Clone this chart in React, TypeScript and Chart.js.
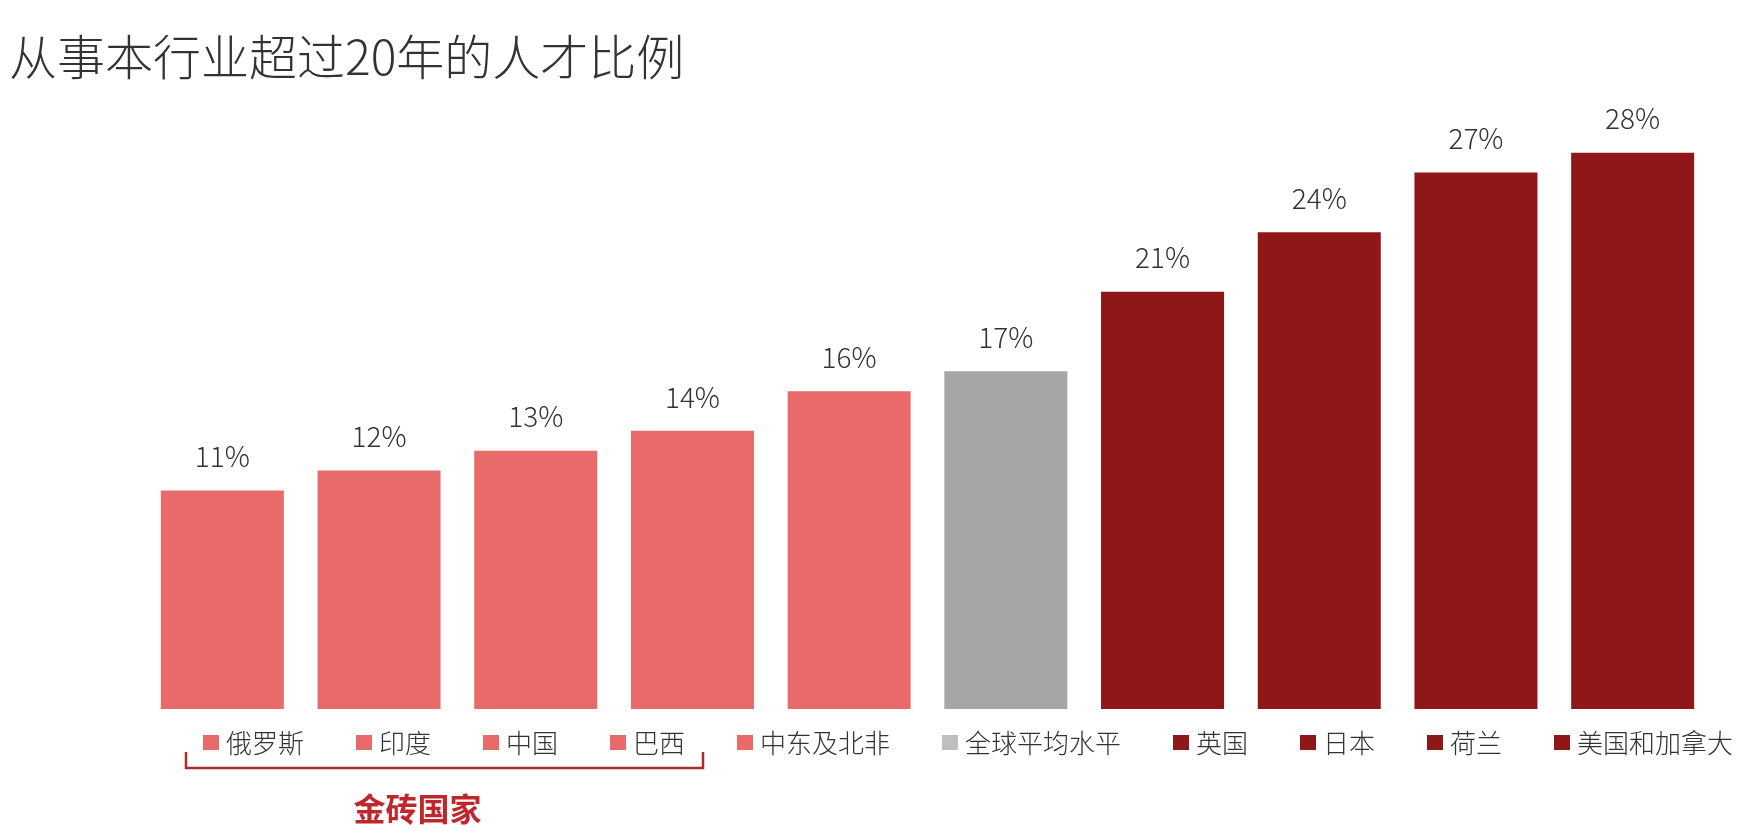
import { useEffect, useRef } from 'react';
import Chart from 'chart.js/auto';

const title = '从事本行业超过20年的人才比例';
const categories = ['俄罗斯', '印度', '中国', '巴西', '中东及北非', '全球平均水平', '英国', '日本', '荷兰', '美国和加拿大'];
const shares = [11, 12, 13, 14, 16, 17, 21, 24, 27, 28];
const groupLabel = '金砖国家';
const groupSize = 4;

const PINK = '#e86b6a';
const GREY = '#a6a6a6';
const DARK = '#8f1718';
const barColors = [PINK, PINK, PINK, PINK, PINK, GREY, DARK, DARK, DARK, DARK];
const legendColors = [PINK, PINK, PINK, PINK, PINK, '#bfbfbf', DARK, DARK, DARK, DARK];

const FONT = '"Noto Sans CJK SC", "Noto Sans", sans-serif';

// value labels, title, category legend and the bracket under the BRIC group
const overlay = {
  id: 'overlay',
  afterDatasetsDraw(chart: any) {
    const { ctx, chartArea } = chart;
    const meta = chart.getDatasetMeta(0);
    ctx.save();

    ctx.font = `300 28px ${FONT}`;
    ctx.fillStyle = '#333333';
    ctx.textAlign = 'center';
    ctx.textBaseline = 'middle';
    meta.data.forEach((bar: any, i: number) => {
      ctx.fillText(`${shares[i]}%`, bar.x, bar.y - 34);
    });

    ctx.font = `300 48px ${FONT}`;
    ctx.fillStyle = '#333333';
    ctx.textAlign = 'left';
    ctx.fillText(title, 9, 57);

    ctx.font = `300 26px ${FONT}`;
    const y = chartArea.bottom + 34;
    let x = chartArea.left + 59;
    const spans: number[][] = [];
    categories.forEach((c, i) => {
      const w = ctx.measureText(c).width;
      ctx.fillStyle = legendColors[i];
      ctx.fillRect(x, y - 8, 16, 15);
      ctx.fillStyle = '#333333';
      ctx.fillText(c, x + 23, y);
      spans.push([x, x + 23 + w]);
      x += 23 + w + 52;
    });

    const bl = spans[0][0] - 17;
    const br = spans[groupSize - 1][1] + 18;
    ctx.strokeStyle = '#b3282d';
    ctx.lineWidth = 2.5;
    ctx.beginPath();
    ctx.moveTo(bl, y + 9);
    ctx.lineTo(bl, y + 25);
    ctx.lineTo(br, y + 25);
    ctx.lineTo(br, y + 9);
    ctx.stroke();

    ctx.font = `bold 32px ${FONT}`;
    ctx.fillStyle = '#c0272d';
    ctx.textAlign = 'center';
    ctx.fillText(groupLabel, (bl + br) / 2 - 27, y + 66);

    ctx.restore();
  },
};

export default function App() {
  const chartRef = useRef<HTMLCanvasElement>(null);
  const chartInstance = useRef<Chart<'bar', number[], string> | null>(null);

  useEffect(() => {
    if (chartRef.current) {
      const ctx = chartRef.current.getContext('2d');
      if (ctx) {
        if (chartInstance.current) {
          chartInstance.current.destroy();
        }

        chartInstance.current = new Chart(ctx, {
          type: 'bar',
          data: {
            labels: categories,
            datasets: [{
              label: title,
              data: shares,
              backgroundColor: barColors,
              barPercentage: 0.785,
              categoryPercentage: 1,
            }]
          },
          options: {
            responsive: true,
            maintainAspectRatio: false,
            animation: false,
            layout: {
              padding: { left: 144, right: 42, top: 113, bottom: 131 }
            },
            plugins: {
              legend: { display: false },
              tooltip: { enabled: false },
              title: { display: false }
            },
            scales: {
              x: { display: false },
              y: { display: false, min: 0, max: 30 }
            }
          },
          plugins: [overlay]
        });
      }
    }

    return () => {
      if (chartInstance.current) {
        chartInstance.current.destroy();
        chartInstance.current = null;
      }
    };
  }, []);

  return (
    <div style={{ position: 'fixed', left: 0, top: 0, width: 1753, height: 840, background: '#ffffff' }}>
      <canvas ref={chartRef} />
    </div>
  );
}
